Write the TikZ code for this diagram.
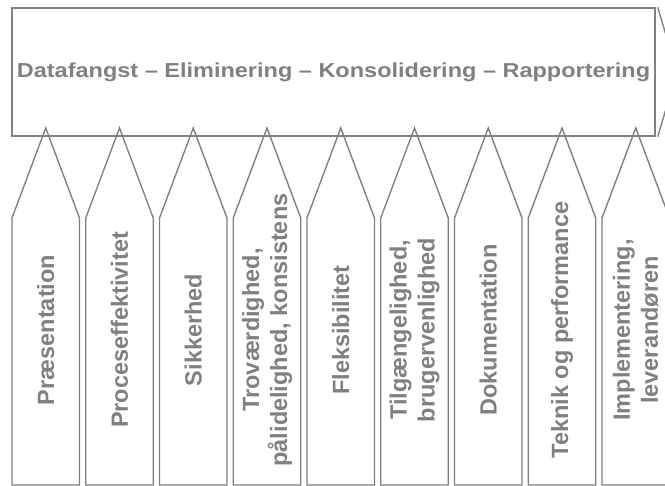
\documentclass[tikz,border=0pt]{standalone}
\usepackage{fontspec}
\setmainfont{Liberation Sans}
\definecolor{kantgraa}{RGB}{128,128,128}

\begin{document}
\begin{tikzpicture}[x=1pt,y=-1pt,line width=1.4pt,
	pil/.style={draw=kantgraa,line join=miter},
	tekst/.style={rotate=90,align=center,text=kantgraa,
		font=\fontsize{23.5}{28}\selectfont\bfseries}]
\clip (0,0) rectangle (665,486);
\node [draw=kantgraa,minimum width=643pt,minimum height=128pt,text=kantgraa,
	font=\fontsize{23.5}{28}\selectfont\bfseries] (flow) at (333.5,72)
	{\scalebox{1}[.86]{Datafangst -- Eliminering -- Konsolidering -- Rapportering}};
\coordinate (spids) at (677,72);
\draw [kantgraa] ([xshift=2pt]flow.north east) -- (spids) -- ([xshift=2pt]flow.south east);
% soejler
\draw [pil,xshift=45.75pt] (-33.75,485) -- (-33.75,218) -- (0,128) -- (33.75,218) -- (33.75,485) -- cycle;
\draw [pil,xshift=119.5pt] (-33.75,485) -- (-33.75,218) -- (0,128) -- (33.75,218) -- (33.75,485) -- cycle;
\draw [pil,xshift=193.25pt] (-33.75,485) -- (-33.75,218) -- (0,128) -- (33.75,218) -- (33.75,485) -- cycle;
\draw [pil,xshift=267pt] (-33.75,485) -- (-33.75,218) -- (0,128) -- (33.75,218) -- (33.75,485) -- cycle;
\draw [pil,xshift=340.75pt] (-33.75,485) -- (-33.75,218) -- (0,128) -- (33.75,218) -- (33.75,485) -- cycle;
\draw [pil,xshift=414.5pt] (-33.75,485) -- (-33.75,218) -- (0,128) -- (33.75,218) -- (33.75,485) -- cycle;
\draw [pil,xshift=488.25pt] (-33.75,485) -- (-33.75,218) -- (0,128) -- (33.75,218) -- (33.75,485) -- cycle;
\draw [pil,xshift=562pt] (-33.75,485) -- (-33.75,218) -- (0,128) -- (33.75,218) -- (33.75,485) -- cycle;
\draw [pil,xshift=635.75pt] (-33.75,485) -- (-33.75,218) -- (0,128) -- (33.75,218) -- (33.75,485) -- cycle;
\node [tekst] (t1) at (45.75,330) {Præsentation};
\node [tekst] (t2) at (119.5,330) {Proceseffektivitet};
\node [tekst] (t3) at (193.25,330) {Sikkerhed};
\node [tekst] (t4) at (267,330) {Troværdighed,\\pålidelighed, konsistens};
\node [tekst] (t5) at (340.75,330) {Fleksibilitet};
\node [tekst] (t6) at (414.5,330) {Tilgængelighed,\\brugervenlighed};
\node [tekst] (t7) at (488.25,330) {Dokumentation};
\node [tekst] (t8) at (562,330) {Teknik og performance};
\node [tekst] (t9) at (635.75,330) {Implementering,\\leverandøren};
\end{tikzpicture}
\end{document}
